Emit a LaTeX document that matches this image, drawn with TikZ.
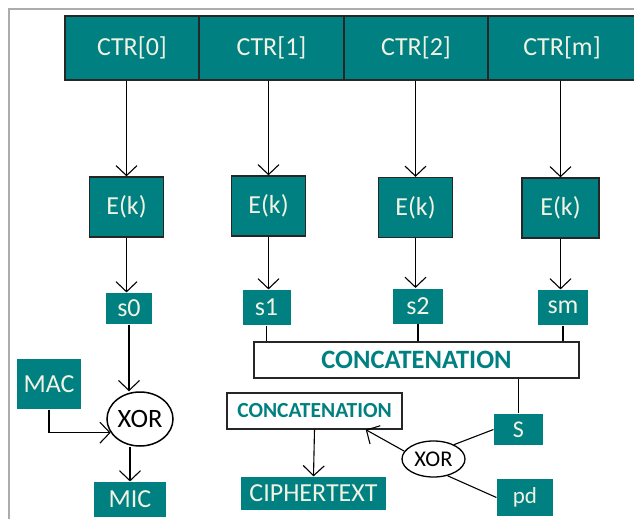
\documentclass[tikz,border=0pt]{standalone}
\usepackage{fontspec}
\setmainfont{Carlito}
\usetikzlibrary{arrows.meta,shapes.geometric}

\definecolor{tealfill}{RGB}{0,128,128}
\definecolor{paletext}{RGB}{240,242,228}

\begin{document}
\begin{tikzpicture}[x=1pt,y=-1pt, line width=1.1pt,
  >={Straight Barb[length=10pt,width=21pt]},
  tealbox/.style={fill=tealfill, text=paletext, inner sep=0pt,
    font=\fontsize{26}{30}\selectfont},
  ctrcell/.style={tealbox, draw=black!85, line width=1.3pt, minimum height=64pt},
  ebox/.style={tealbox, draw=black!85, line width=1.3pt, minimum width=74pt, minimum height=60pt},
  sbox/.style={tealbox, minimum width=48pt, minimum height=35pt},
  catbox/.style={draw=black!85, fill=white, text=tealfill, inner sep=0pt, line width=1.3pt},
  xorshape/.style={ellipse, draw=black, fill=white, inner sep=0pt, line width=1.5pt}]
  \useasboundingbox (0,0) rectangle (634,519);
  \draw[gray!65, line width=2pt] (9,519) -- (9,9) -- (634,9);

  % counter blocks
  \node[ctrcell, minimum width=134pt] (ctr0) at (132,48) {CTR[0]};
  \node[ctrcell, minimum width=145pt] (ctr1) at (271.5,48) {CTR[1]};
  \node[ctrcell, minimum width=144pt] (ctr2) at (416,48) {CTR[2]};
  \node[ctrcell, minimum width=148pt] (ctrm) at (562,48) {CTR[m]};

  % encryption
  \node[ebox] (e0) at (126.5,207) {E(k)};
  \node[ebox] (e1) at (268.5,206) {E(k)};
  \node[ebox] (e2) at (415.5,207.5) {E(k)};
  \node[ebox, minimum width=77pt] (e3) at (560.5,208) {E(k)};

  \node[sbox, minimum width=46pt, minimum height=31pt] (s0) at (129,308.5) {s0};
  \node[sbox] (s1) at (266.5,307.5) {s1};
  \node[sbox, minimum width=50pt] (s2) at (418,306) {s2};
  \node[sbox, minimum width=50pt] (sm) at (563,307.5) {sm};

  \draw[->] (e0 |- ctr0.south) -- (e0.north);
  \draw[->] (e1 |- ctr1.south) -- (e1.north);
  \draw[->] (e2 |- ctr2.south) -- (e2.north);
  \draw[->] (e3 |- ctrm.south) -- (e3.north);
  \draw[->] (e0.south) -- (e0.south |- s0.north);
  \draw[->] (e1.south) -- (e1.south |- s1.north);
  \draw[->] (e2.south) -- (e2.south |- s2.north);
  \draw[->] (e3.south) -- (e3.south |- sm.north);

  % left branch
  \node[tealbox, minimum width=64pt, minimum height=50pt] (mac) at (49,384) {MAC};
  \node[xorshape, minimum width=66pt, minimum height=54pt,
    font=\fontsize{26.5}{30}\selectfont] (xorL) at (140,419) {XOR};
  \node[tealbox, minimum width=72pt, minimum height=35pt] (mic) at (130,499.5) {MIC};
  \draw[->] (s0.south) -- (s0.south |- xorL.north);
  \draw[->] (mac.south) |- (xorL.205);
  \draw[->] (mic.north |- xorL.south) -- (mic.north);

  % right branch
  \node[catbox, minimum width=325pt, minimum height=36pt,
    font=\fontsize{26.5}{30}\selectfont\bfseries] (cat) at (416.5,360) {CONCATENATION};
  \draw (s1.south) -- (s1.south |- cat.north);
  \draw (s2.south) -- (s2.south |- cat.north);
  \draw (sm.south) -- (sm.south |- cat.north);

  \node[tealbox, minimum width=49pt, minimum height=31pt,
    font=\fontsize{24}{28}\selectfont] (sfin) at (518.5,429.5) {S};
  \node[tealbox, minimum width=56pt, minimum height=37pt,
    font=\fontsize{23}{27}\selectfont] (pd) at (525,497.5) {pd};
  \node[xorshape, minimum width=63pt, minimum height=36pt, line width=1.3pt,
    font=\fontsize{22.5}{26}\selectfont] (xorR) at (433.5,459) {XOR};
  \draw (sfin.north |- cat.south) -- (sfin.north);
  \draw (sfin.west) -- (xorR.35);
  \draw (pd.west) -- (xorR.-50);

  \node[catbox, minimum width=175pt, minimum height=36pt,
    font=\fontsize{21.5}{25}\selectfont\bfseries] (scat) at (314.5,411) {CONCATENATION};
  \node[tealbox, minimum width=145pt, minimum height=33pt] (ctext) at (313.5,493.5) {CIPHERTEXT};
  \draw[->] (xorR.165) -- (scat.-20);
  \draw[->] (scat.south) -- (ctext.north);
\end{tikzpicture}
\end{document}
